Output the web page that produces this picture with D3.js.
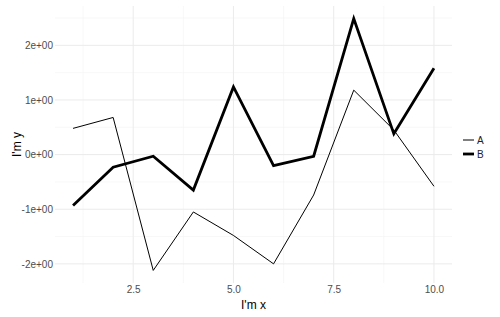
<!DOCTYPE html>
<html>
<head>
<meta charset="utf-8">
<script src="https://cdn.jsdelivr.net/npm/d3@7"></script>
<style>
body { margin: 0; background: #fff; }
text { font-family: "Liberation Sans", Arial, sans-serif; }
</style>
</head>
<body>
<div id="chart"></div>
<script>
var xs = [1, 2, 3, 4, 5, 6, 7, 8, 9, 10];
var seriesA = [0.48, 0.68, -2.12, -1.05, -1.48, -2.0, -0.74, 1.18, 0.45, -0.58];
var seriesB = [-0.93, -0.23, -0.03, -0.65, 1.24, -0.2, -0.03, 2.49, 0.38, 1.58];
var xTicks = [2.5, 5.0, 7.5, 10.0];
var yTicks = [-2, -1, 0, 1, 2];
var seriesNames = ["A", "B"];

var W = 500, H = 317;
var margin = {top: 6, right: 48, bottom: 34, left: 55};
var width = W - margin.left - margin.right;
var height = H - margin.top - margin.bottom;

var svg = d3.select("#chart").append("svg")
    .attr("width", W)
    .attr("height", H);
var g = svg.append("g")
    .attr("transform", "translate(" + margin.left + "," + margin.top + ")");

// ggplot style 5% expansion
var xmin = d3.min(xs), xmax = d3.max(xs);
var xpad = (xmax - xmin) * 0.05;
var x = d3.scaleLinear().domain([xmin - xpad, xmax + xpad]).range([0, width]);
var all = seriesA.concat(seriesB);
var ymin = d3.min(all), ymax = d3.max(all);
var ypad = (ymax - ymin) * 0.05;
var y = d3.scaleLinear().domain([ymin - ypad, ymax + ypad]).range([height, 0]);

// minor grid
var xMinor = [1.25, 3.75, 6.25, 8.75];
var yMinor = [-1.5, -0.5, 0.5, 1.5, 2.5];
g.selectAll(".xminor").data(xMinor).enter().append("line")
    .attr("x1", d => x(d)).attr("x2", d => x(d))
    .attr("y1", 0).attr("y2", height)
    .attr("stroke", "#f4f4f4").attr("stroke-width", 0.6);
g.selectAll(".yminor").data(yMinor.filter(d => d <= y.domain()[1])).enter().append("line")
    .attr("y1", d => y(d)).attr("y2", d => y(d))
    .attr("x1", 0).attr("x2", width)
    .attr("stroke", "#f4f4f4").attr("stroke-width", 0.6);

// major grid
g.selectAll(".xmajor").data(xTicks).enter().append("line")
    .attr("x1", d => x(d)).attr("x2", d => x(d))
    .attr("y1", 0).attr("y2", height)
    .attr("stroke", "#ebebeb").attr("stroke-width", 1);
g.selectAll(".ymajor").data(yTicks).enter().append("line")
    .attr("y1", d => y(d)).attr("y2", d => y(d))
    .attr("x1", 0).attr("x2", width)
    .attr("stroke", "#ebebeb").attr("stroke-width", 1);

// axes (text only)
var xAxis = g.append("g")
    .attr("transform", "translate(0," + height + ")")
    .call(d3.axisBottom(x).tickValues(xTicks).tickFormat(d3.format(".1f")).tickSize(0).tickPadding(3));
var yAxis = g.append("g")
    .call(d3.axisLeft(y).tickValues(yTicks).tickFormat(d => d + "e+00").tickSize(0).tickPadding(2));
[xAxis, yAxis].forEach(function(a) {
    a.select(".domain").remove();
    a.selectAll("text").attr("fill", "#4d4d4d").style("font-size", "10px")
        .style("font-family", "'Liberation Sans', Arial, sans-serif");
});

var line = d3.line()
    .x((d, i) => x(xs[i]))
    .y(d => y(d));

g.append("path").datum(seriesA)
    .attr("fill", "none").attr("stroke", "#000").attr("stroke-width", 1)
    .attr("d", line);
g.append("path").datum(seriesB)
    .attr("fill", "none").attr("stroke", "#000").attr("stroke-width", 2.8)
    .attr("stroke-linejoin", "miter")
    .attr("d", line);

// axis titles
svg.append("text")
    .attr("x", margin.left + width / 2)
    .attr("y", H - 8)
    .attr("text-anchor", "middle")
    .style("font-size", "12px")
    .text("I'm x");
svg.append("text")
    .attr("transform", "translate(21," + (margin.top + height / 2) + ") rotate(-90)")
    .attr("text-anchor", "middle")
    .style("font-size", "12px")
    .text("I'm y");

// legend
var legend = svg.append("g").attr("transform", "translate(463,140)");
seriesNames.forEach(function(name, i) {
    legend.append("line")
        .attr("x1", 0).attr("x2", 11)
        .attr("y1", i * 14).attr("y2", i * 14)
        .attr("stroke", "#000").attr("stroke-width", i === 0 ? 1 : 2.8);
    legend.append("text")
        .attr("x", 14).attr("y", i * 14)
        .attr("dy", "0.35em")
        .attr("fill", "#222")
        .style("font-size", "10px")
        .text(name);
});
</script>
</body>
</html>
